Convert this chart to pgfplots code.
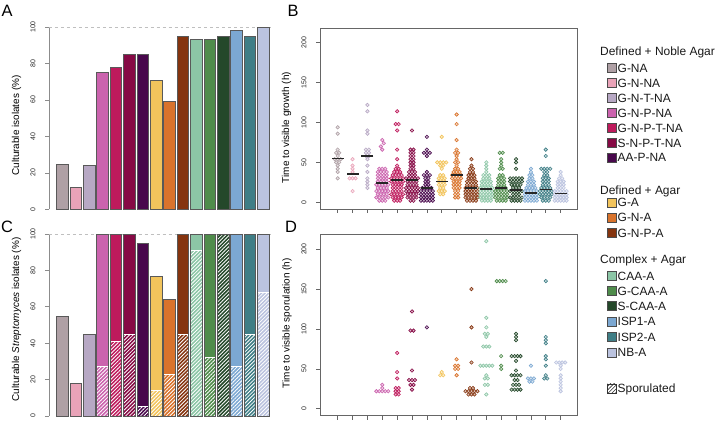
\documentclass[border=0pt]{standalone}
\usepackage{fontspec}
\setmainfont{Liberation Sans}
\usepackage{pgfplots}
\usepackage{pgfplotstable}
\pgfplotsset{compat=1.18}
\usetikzlibrary{patterns.meta}

% media colours
\definecolor{c1}{HTML}{AFA0A5}
\definecolor{c2}{HTML}{E9A3B8}
\definecolor{c3}{HTML}{B7A8C4}
\definecolor{c4}{HTML}{CB63AE}
\definecolor{c5}{HTML}{BE1A5C}
\definecolor{c6}{HTML}{860A45}
\definecolor{c7}{HTML}{48084C}
\definecolor{c8}{HTML}{F2C45C}
\definecolor{c9}{HTML}{D9732C}
\definecolor{c10}{HTML}{85340F}
\definecolor{c11}{HTML}{8CC6A6}
\definecolor{c12}{HTML}{4F8C4B}
\definecolor{c13}{HTML}{24482A}
\definecolor{c14}{HTML}{7CA8D2}
\definecolor{c15}{HTML}{3F7E86}
\definecolor{c16}{HTML}{BBC3DF}

% culturable isolates (%), Streptomyces (%), sporulated (%)
\pgfplotstableread{
x grow strep spor
1 25 55 0
2 12 18 0
3 24 45 0
4 75 100 27
5 78 100 41
6 85 100 45
7 85 95 5
8 71 77 14
9 59 64 23
10 95 100 45
11 93 100 91
12 93 100 32
13 95 100 100
14 98 100 27
15 95 100 45
16 100 100 68
}\bars

\pgfplotsset{
  /pgf/number format/assume math mode=true,
  sw/.style={only marks, mark=*, mark size=1.75bp,
    mark options={draw=#1, fill=#1, fill opacity=0.3, line width=0.6bp}},
  barax/.style={scale only axis, anchor=south west,
    width=222.4bp, xmin=0, xmax=16.6, ymin=0, ymax=100,
    axis x line=none, axis y line*=left, clip=false,
    ytick={0,20,...,100}, tick align=outside, major tick length=4bp,
    axis line style={black!45, line width=1bp},
    tick style={black!45, line width=0.8bp},
    yticklabel style={rotate=90, anchor=south, font=\fontsize{7}{8}\selectfont, text=black!85},
    yticklabel shift=6bp,
    label style={font=\fontsize{7.5}{9}\selectfont, text=black!85}},
  swax/.style={scale only axis, anchor=south west,
    width=257bp, height=181bp,
    xmin=-0.19, xmax=17.1, ymin=-8.4, ymax=218.4,
    xtick={1,...,16}, xticklabels={}, ytick={0,50,...,200},
    tick pos=left, tick align=outside, major tick length=4bp,
    axis line style={black!60, line width=0.8bp},
    tick style={black!60, line width=0.7bp},
    yticklabel style={rotate=90, anchor=south, font=\fontsize{7}{8}\selectfont, text=black!85},
    yticklabel shift=6bp,
    label style={font=\fontsize{7.5}{9}\selectfont, text=black!85}},
}

\begin{document}
\begin{tikzpicture}
\path[use as bounding box] (0,0) rectangle (720bp,424bp);

% ---------- A
\begin{axis}[barax, at={(49bp,214.5bp)}, height=182.5bp,
  ylabel={Culturable isolates (\%)},
  every axis y label/.style={at={(axis description cs:-0.146,0.46)}, rotate=90, anchor=center}]
\addplot[black!25, dashed, line width=0.6bp] coordinates {(0,100)(16.6,100)};
\pgfplotsinvokeforeach{1,...,16}{
  \addplot[ybar, bar width=11.5bp, bar shift=0pt, fill=c#1, draw=black!65, line width=0.7bp,
    restrict x to domain=#1:#1] table[x=x, y=grow]{\bars};
}
\end{axis}

% ---------- C
\begin{axis}[barax, at={(49bp,8bp)}, height=182bp,
  ylabel={Culturable \textit{Streptomyces} isolates (\%)},
  every axis y label/.style={at={(axis description cs:-0.146,0.53)}, rotate=90, anchor=center}]
\addplot[black!25, dashed, line width=0.6bp] coordinates {(0,100)(16.6,100)};
\pgfplotsinvokeforeach{1,...,16}{
  \addplot[ybar, bar width=11.5bp, bar shift=0pt, fill=c#1, draw=none,
    restrict x to domain=#1:#1] table[x=x, y=strep]{\bars};
  \addplot[ybar, bar width=11.5bp, bar shift=0pt, draw=white, line width=0.8bp,
    pattern={Lines[angle=45, distance=2.6bp, line width=0.8bp]}, pattern color=white,
    restrict x to domain=#1:#1] table[x=x, y=spor]{\bars};
  \addplot[ybar, bar width=11.5bp, bar shift=0pt, draw=black!65, line width=0.7bp,
    restrict x to domain=#1:#1] table[x=x, y=strep]{\bars};
}
\end{axis}

% ---------- B
\begin{axis}[swax, at={(320bp,215bp)},
  ylabel={Time to visible growth (h)},
  every axis y label/.style={at={(axis description cs:-0.13,0.45)}, rotate=90, anchor=center}]
\addplot[sw=c1] coordinates {(1,94)(1,86)(1,66)(0.9,62)(1.1,62)(1,58)(0.8,54)(1,54)(1.2,54)(0.9,50)(1.1,50)(1,46)(1,42)(1,38)(1,30)};
\addplot[sw=c2] coordinates {(2,54)(2,46)(2,42)(2,38)(1.8,30)(2,30)(2.2,30)(2,14)};
\addplot[sw=c3] coordinates {(3,122)(3,114)(3,90)(3,86)(2.9,66)(3.1,66)(2.9,62)(3.1,62)(2.9,58)(3.1,58)(3,54)(3,46)(3,38)(3,30)(3,26)(3,22)(3,18)};
\addplot[sw=c4] coordinates {(4,78)(4.1,74)(3.9,70)(4,66)
 (3.8,42)(4,42)(4.2,42)(3.7,38)(3.9,38)(4.1,38)(4.3,38)(3.7,34)(3.9,34)(4.1,34)(4.3,34)
 (3.7,30)(3.9,30)(4.1,30)(4.3,30)(3.7,26)(3.9,26)(4.1,26)(4.3,26)
 (3.6,22)(3.8,22)(4,22)(4.2,22)(4.4,22)(3.7,18)(3.9,18)(4.1,18)(4.3,18)
 (3.6,14)(3.8,14)(4,14)(4.2,14)(4.4,14)(3.7,10)(3.9,10)(4.1,10)(4.3,10)
 (3.6,6)(3.8,6)(4,6)(4.2,6)(4.4,6)(3.8,2)(4,2)(4.2,2)};
\addplot[sw=c5] coordinates {(5,114)(4.9,98)(5.1,98)(5,90)(5,66)(5,54)(5,46)(4.9,42)(5.1,42)
 (4.8,38)(5,38)(5.2,38)(4.7,34)(4.9,34)(5.1,34)(5.3,34)
 (4.6,30)(4.8,30)(5,30)(5.2,30)(5.4,30)(4.6,26)(4.8,26)(5,26)(5.2,26)(5.4,26)
 (4.7,22)(4.9,22)(5.1,22)(5.3,22)(4.7,18)(4.9,18)(5.1,18)(5.3,18)
 (4.7,14)(4.9,14)(5.1,14)(5.3,14)(4.6,10)(4.8,10)(5,10)(5.2,10)(5.4,10)
 (4.7,6)(4.9,6)(5.1,6)(5.3,6)(4.8,2)(5,2)(5.2,2)};
\addplot[sw=c6] coordinates {(6,90)
 (5.9,66)(6.1,66)(5.9,62)(6.1,62)(5.9,58)(6.1,58)(5.9,54)(6.1,54)(5.9,50)(6.1,50)(5.9,46)(6.1,46)(5.9,42)(6.1,42)
 (5.8,38)(6,38)(6.2,38)(5.8,34)(6,34)(6.2,34)
 (5.6,30)(5.8,30)(6,30)(6.2,30)(6.4,30)(5.7,26)(5.9,26)(6.1,26)(6.3,26)
 (5.7,22)(5.9,22)(6.1,22)(6.3,22)(5.6,18)(5.8,18)(6,18)(6.2,18)(6.4,18)
 (5.6,14)(5.8,14)(6,14)(6.2,14)(6.4,14)(5.7,10)(5.9,10)(6.1,10)(6.3,10)
 (5.7,6)(5.9,6)(6.1,6)(6.3,6)(5.9,2)(6.1,2)};
\addplot[sw=c7] coordinates {(7,82)(7,66)(6.8,62)(7,62)(7.2,62)(7,58)(7,38)(6.8,34)(7,34)(7.2,34)
 (6.9,30)(7.1,30)(6.9,26)(7.1,26)(6.9,22)(7.1,22)(6.7,18)(6.9,18)(7.1,18)(7.3,18)
 (6.6,14)(6.8,14)(7,14)(7.2,14)(7.4,14)(6.6,10)(6.8,10)(7,10)(7.2,10)(7.4,10)
 (6.6,6)(6.8,6)(7,6)(7.2,6)(7.4,6)(6.6,2)(6.8,2)(7,2)(7.2,2)(7.4,2)};
\addplot[sw=c8] coordinates {(8,82)(7.7,50)(7.9,50)(8.1,50)(8.3,50)(7.9,46)(8.1,46)(8,42)(7.9,34)(8.1,34)
 (7.8,30)(8,30)(8.2,30)(7.8,26)(8,26)(8.2,26)(7.8,22)(8,22)(8.2,22)(7.9,18)(8.1,18)
 (7.8,14)(8,14)(8.2,14)(7.9,10)(8.1,10)};
\addplot[sw=c9] coordinates {(9,110)(9,98)(9,78)(9,66)(8.9,62)(9.1,62)(9,58)(9,54)(8.9,50)(9.1,50)(9,46)
 (8.9,42)(9.1,42)(8.8,38)(9,38)(9.2,38)(8.7,34)(8.9,34)(9.1,34)(9.3,34)(8.7,30)(8.9,30)(9.1,30)(9.3,30)
 (8.8,26)(9,26)(9.2,26)(8.8,22)(9,22)(9.2,22)(8.8,18)(9,18)(9.2,18)(8.9,14)(9.1,14)(8.9,10)(9.1,10)(8.9,6)(9.1,6)};
\addplot[sw=c10] coordinates {(10,54)(10,46)(9.9,42)(10.1,42)(9.9,38)(10.1,38)(9.8,34)(10,34)(10.2,34)
 (9.8,30)(10,30)(10.2,30)(9.7,26)(9.9,26)(10.1,26)(10.3,26)(9.7,22)(9.9,22)(10.1,22)(10.3,22)
 (9.6,18)(9.8,18)(10,18)(10.2,18)(10.4,18)(9.6,14)(9.8,14)(10,14)(10.2,14)(10.4,14)
 (9.6,10)(9.8,10)(10,10)(10.2,10)(10.4,10)(9.6,6)(9.8,6)(10,6)(10.2,6)(10.4,6)(9.7,2)(9.9,2)(10.1,2)(10.3,2)};
\addplot[sw=c11] coordinates {(11,50)(11,46)(11,42)(11,38)(10.8,34)(11,34)(11.2,34)(10.8,30)(11,30)(11.2,30)
 (10.7,26)(10.9,26)(11.1,26)(11.3,26)(10.7,22)(10.9,22)(11.1,22)(11.3,22)
 (10.6,18)(10.8,18)(11,18)(11.2,18)(11.4,18)(10.6,14)(10.8,14)(11,14)(11.2,14)(11.4,14)
 (10.6,10)(10.8,10)(11,10)(11.2,10)(11.4,10)(10.6,6)(10.8,6)(11,6)(11.2,6)(11.4,6)(10.7,2)(10.9,2)(11.1,2)(11.3,2)};
\addplot[sw=c12] coordinates {(11.9,62)(12.1,62)(12,54)(12,50)(12,46)(11.9,42)(12.1,42)(11.9,34)(12.1,34)
 (11.8,30)(12,30)(12.2,30)(11.8,26)(12,26)(12.2,26)(11.8,22)(12,22)(12.2,22)(11.7,18)(11.9,18)(12.1,18)(12.3,18)
 (11.6,14)(11.8,14)(12,14)(12.2,14)(12.4,14)(11.6,10)(11.8,10)(12,10)(12.2,10)(12.4,10)
 (11.6,6)(11.8,6)(12,6)(12.2,6)(12.4,6)(11.7,2)(11.9,2)(12.1,2)(12.3,2)};
\addplot[sw=c13] coordinates {(13,54)(13,50)(13,42)(12.6,30)(12.8,30)(13,30)(13.2,30)(13.4,30)
 (12.6,26)(12.8,26)(13,26)(13.2,26)(13.4,26)(12.7,22)(12.9,22)(13.1,22)(13.3,22)(12.8,18)(13,18)(13.2,18)
 (12.6,14)(12.8,14)(13,14)(13.2,14)(13.4,14)(12.8,10)(13,10)(13.2,10)
 (12.6,6)(12.8,6)(13,6)(13.2,6)(13.4,6)(12.7,2)(12.9,2)(13.1,2)(13.3,2)};
\addplot[sw=c14] coordinates {(14,42)(14,38)(13.9,34)(14.1,34)(13.9,30)(14.1,30)(13.8,26)(14,26)(14.2,26)
 (13.8,22)(14,22)(14.2,22)(13.7,18)(13.9,18)(14.1,18)(14.3,18)(13.6,14)(13.8,14)(14,14)(14.2,14)(14.4,14)
 (13.6,10)(13.8,10)(14,10)(14.2,10)(14.4,10)(13.6,6)(13.8,6)(14,6)(14.2,6)(14.4,6)
 (13.6,2)(13.8,2)(14,2)(14.2,2)(14.4,2)};
\addplot[sw=c15] coordinates {(15,66)(15,58)(14.7,42)(14.9,42)(15.1,42)(15.3,42)(14.9,38)(15.1,38)(14.9,34)(15.1,34)
 (14.8,30)(15,30)(15.2,30)(14.8,26)(15,26)(15.2,26)(14.8,22)(15,22)(15.2,22)(14.7,18)(14.9,18)(15.1,18)(15.3,18)
 (14.6,14)(14.8,14)(15,14)(15.2,14)(15.4,14)(14.6,10)(14.8,10)(15,10)(15.2,10)(15.4,10)
 (14.7,6)(14.9,6)(15.1,6)(15.3,6)(14.8,2)(15,2)(15.2,2)};
\addplot[sw=c16] coordinates {(16,38)(16,34)(15.9,30)(16.1,30)(15.8,26)(16,26)(16.2,26)(15.8,22)(16,22)(16.2,22)
 (15.8,18)(16,18)(16.2,18)(15.6,14)(15.8,14)(16,14)(16.2,14)(16.4,14)(15.6,10)(15.8,10)(16,10)(16.2,10)(16.4,10)
 (15.6,6)(15.8,6)(16,6)(16.2,6)(16.4,6)(15.6,2)(15.8,2)(16,2)(16.2,2)(16.4,2)};
% medians, drawn as wide dash marks so they sit on top of the points
\addplot[only marks, mark=-, mark size=6bp, mark options={draw=black!85, line width=1.8bp}] coordinates {
 (1,55)(2,35)(3,58)(4,24)(5,28)(6,28)(7,18)(8,26)
 (9,34)(10,17.5)(11,17)(12,18)(13,15)(14,12)(15,16)(16,11)};
\end{axis}

% ---------- D
\begin{axis}[swax, at={(320bp,8.5bp)},
  ylabel={Time to visible sporulation (h)},
  every axis y label/.style={at={(axis description cs:-0.128,0.51)}, rotate=90, anchor=center}]
\addplot[sw=c4] coordinates {(4,30)(4,26)(3.6,22)(3.8,22)(4,22)(4.2,22)(4.4,22)};
\addplot[sw=c5] coordinates {(5,70)(5,46)(5,38)(4.9,26)(5.1,26)(4.9,22)(5.1,22)(4.9,18)(5.1,18)};
\addplot[sw=c6] coordinates {(6,122)(5.9,98)(6.1,98)(6,48)(5.8,36)(6,36)(6.2,36)(5.9,30)(6.1,30)(6,24)};
\addplot[sw=c7] coordinates {(7,102)};
\addplot[sw=c8] coordinates {(8,46)(7.9,42)(8.1,42)};
\addplot[sw=c9] coordinates {(9,62)(8.9,54)(9.1,54)(8.9,50)(9.1,50)(9,42)};
\addplot[sw=c10] coordinates {(10,150)(10,102)(10,58)(9.9,26)(10.1,26)(9.6,22)(9.8,22)(10,22)(10.2,22)(10.4,22)(9.8,18)(10,18)(10.2,18)};
\addplot[sw=c11] coordinates {(11,210)(11,114)(11,102)(10.9,94)(11.1,94)(11,90)(10.8,78)(11,78)(11.2,78)
 (10.6,54)(10.8,54)(11,54)(11.2,54)(11.4,54)(11,42)(10.9,38)(11.1,38)(10.9,30)(11.1,30)(11,18)};
\addplot[sw=c12] coordinates {(11.7,160)(11.9,160)(12.1,160)(12.3,160)(12,66)(12,54)(12,50)};
\addplot[sw=c13] coordinates {(13,94)(13,90)(13,86)(12.7,66)(12.9,66)(13.1,66)(13.3,66)(13,60)(13,48)
 (12.7,42)(12.9,42)(13.1,42)(13.3,42)(12.9,36)(13.1,36)(12.8,30)(13,30)(13.2,30)(12.7,24)(12.9,24)(13.1,24)(13.3,24)};
\addplot[sw=c14] coordinates {(14,54)(13.8,38)(14,38)(14.2,38)(13.9,34)(14.1,34)};
\addplot[sw=c15] coordinates {(15,160)(15,90)(15,86)(15,82)(15,66)(15,62)(15,54)(15,42)(14.9,38)(15.1,38)};
\addplot[sw=c16] coordinates {(15.7,58)(15.9,58)(16.1,58)(16.3,58)(16,54)(16,50)(16,42)(16,38)(16,34)(16,30)(16,26)(16,22)};
\end{axis}

% ---------- panel letters and legend
\begin{scope}[x=1bp, y=1bp]
\tikzset{pl/.style={anchor=base west, inner sep=0, font=\fontsize{16.5}{18}\selectfont}}
\node[pl] at (1.5,407.3) {A};
\node[pl] at (287.5,407.3) {B};
\node[pl] at (1,192) {C};
\node[pl] at (285,192) {D};

\tikzset{lg/.style={anchor=base west, inner sep=0, font=\fontsize{12}{14}\selectfont, text=black!90}}
\newcommand\legitem[3]{%
  \draw[black!70, line width=0.5bp, fill=#1] (607,#2-4.5) rectangle (616,#2+4.5);
  \node[lg] at (617.5,#2-4.3) {#3};}
\node[lg] at (600,372.5-4.3) {Defined + Noble Agar};
\legitem{c1}{356}{G-NA}
\legitem{c2}{341}{G-N-NA}
\legitem{c3}{326}{G-N-T-NA}
\legitem{c4}{311}{G-N-P-NA}
\legitem{c5}{296}{G-N-P-T-NA}
\legitem{c6}{281}{S-N-P-T-NA}
\legitem{c7}{266.5}{AA-P-NA}
\node[lg] at (600,234-4.3) {Defined + Agar};
\legitem{c8}{221.5}{G-A}
\legitem{c9}{206.5}{G-N-A}
\legitem{c10}{191}{G-N-P-A}
\node[lg] at (600,165-4.3) {Complex + Agar};
\legitem{c11}{148}{CAA-A}
\legitem{c12}{133}{G-CAA-A}
\legitem{c13}{118}{S-CAA-A}
\legitem{c14}{102.7}{ISP1-A}
\legitem{c15}{87.3}{ISP2-A}
\legitem{c16}{71.7}{NB-A}
\draw[black!80, line width=0.5bp, pattern={Lines[angle=45, distance=2.6bp, line width=0.6bp]}, pattern color=black!80]
  (607,35.7-4.5) rectangle (616,35.7+4.5);
\node[lg] at (617.5,35.7-4.3) {Sporulated};
\end{scope}
\end{tikzpicture}
\end{document}
